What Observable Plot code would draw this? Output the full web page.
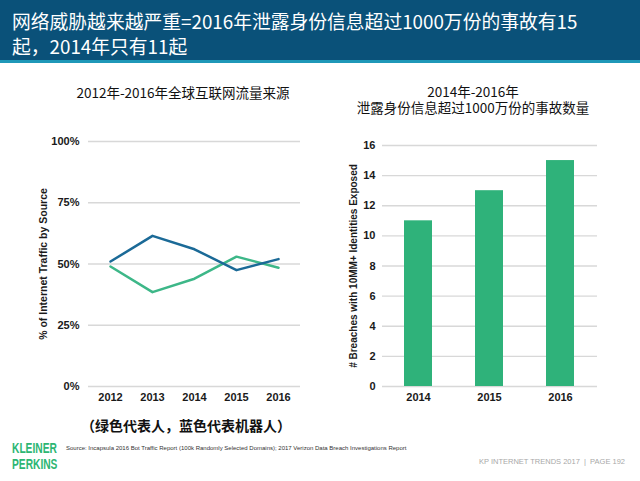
<!DOCTYPE html>
<html>
<head>
<meta charset="utf-8">
<script src="https://cdn.jsdelivr.net/npm/d3@7"></script>
<script src="https://cdn.jsdelivr.net/npm/@observablehq/plot@0.6"></script>
<style>
  html, body { margin: 0; padding: 0; background: #fff; }
  #page { position: relative; width: 640px; height: 481px; overflow: hidden; background: #fff; font-family: "Noto Sans CJK SC", "Liberation Sans", sans-serif; }
  .abs { position: absolute; }
  #header { left: 0; top: 0; width: 640px; height: 60px; background: #0a5179; border-bottom: 3px solid #1f98b8; }
  #title { left: 12px; top: 8px; color: #fff; font-size: 18.8px; line-height: 25px; white-space: nowrap; }
  .ctitle { color: #111; font-size: 13.5px; line-height: 16px; text-align: center; white-space: nowrap; }
  #caption { left: 0px; width: 372px; top: 415px; text-align: center; font-size: 14px; font-weight: bold; color: #111; white-space: nowrap; }
  #source { left: 66px; top: 445px; font-family: "Liberation Sans", Arial, sans-serif; font-size: 6px; color: #333; white-space: nowrap; }
  #pageinfo { right: 15px; top: 457px; font-family: "Liberation Sans", Arial, sans-serif; font-size: 7.5px; color: #a8a8a8; white-space: nowrap; }
  .logo { left: 12px; font-family: "Liberation Sans Narrow", "Liberation Sans", sans-serif; font-weight: bold; font-size: 14px; line-height: 15.6px; height: 15.6px; color: #2db673; white-space: nowrap; transform: scaleX(0.73); transform-origin: 0 50%; }
</style>
</head>
<body>
<div id="page">
  <div id="header" class="abs"></div>
  <div id="title" class="abs">网络威胁越来越严重=2016年泄露身份信息超过1000万份的事故有15<br>起，2014年只有11起</div>
  <div id="t1" class="abs ctitle" style="left:33px; width:300px; top:84px;">2012年-2016年全球互联网流量来源</div>
  <div id="t2" class="abs ctitle" style="left:323px; width:300px; top:83px;">2014年-2016年</div>
  <div id="t3" class="abs ctitle" style="left:323px; width:300px; top:99px;">泄露身份信息超过1000万份的事故数量</div>
  <div id="c1" class="abs" style="left:0; top:125px;"></div>
  <div id="c2" class="abs" style="left:320px; top:125px;"></div>
  <div id="caption" class="abs">（绿色代表人，蓝色代表机器人）</div>
  <div class="abs logo" style="top:441.4px;">KLEINER</div>
  <div class="abs logo" style="top:457px;">PERKINS</div>
  <div id="source" class="abs">Source: Incapsula 2016 Bot Traffic Report (100k Randomly Selected Domains); 2017 Verizon Data Breach Investigations Report</div>
  <div id="pageinfo" class="abs">KP INTERNET TRENDS 2017 &nbsp;|&nbsp; PAGE 192</div>
</div>
<script>
// ---- Data ----
const years = ["2012", "2013", "2014", "2015", "2016"];
const botShare = [51, 61.5, 56, 47.5, 52];      // blue: bots (机器人)
const humanShare = [49, 38.5, 44, 53, 48.5];    // green: humans (人)
const pctTicks = [0, 25, 50, 75, 100];
const lineYLabel = "% of Internet Traffic by Source";

const breachYears = ["2014", "2015", "2016"];
const breaches = [11, 13, 15];
const breachTicks = [0, 2, 4, 6, 8, 10, 12, 14, 16];
const barYLabel = "# Breaches with 10MM+ Identities Exposed";

// ---- Styles ----
const BLUE = "#1b6a97";
const GREEN = "#3db788";
const BAR = "#2fb27a";
const GRID = "#d8d8d8";
const font = {fontFamily: "'Liberation Sans', Arial, sans-serif", fontSize: "11px", fontWeight: "bold", color: "#1a1a1a", background: "transparent", overflow: "visible"};

const botRows = years.map((y, i) => ({year: y, value: botShare[i]}));
const humanRows = years.map((y, i) => ({year: y, value: humanShare[i]}));

const lineChart = Plot.plot({
  width: 320, height: 290,
  marginLeft: 88, marginRight: 20, marginTop: 16, marginBottom: 29,
  style: font,
  x: {type: "point", domain: years, padding: 0.5, label: null, tickSize: 0, tickPadding: 7},
  y: {domain: [0, 100], ticks: pctTicks, tickFormat: d => d + "%", label: null, tickSize: 0, tickPadding: 9},
  marks: [
    Plot.ruleY(pctTicks, {stroke: GRID, strokeWidth: 1.3}),
    Plot.lineY(humanRows, {x: "year", y: "value", stroke: GREEN, strokeWidth: 2.5}),
    Plot.lineY(botRows, {x: "year", y: "value", stroke: BLUE, strokeWidth: 2.5}),
    Plot.text([lineYLabel], {text: d => d, frameAnchor: "left", textAnchor: "middle", dx: -45, rotate: -90, fontSize: 10.5, fontWeight: "bold"})
  ]
});
document.getElementById("c1").appendChild(lineChart);

const barRows = breachYears.map((y, i) => ({year: y, value: breaches[i]}));
const barChart = Plot.plot({
  width: 320, height: 290,
  marginLeft: 62, marginRight: 43, marginTop: 20, marginBottom: 29,
  style: font,
  x: {domain: breachYears, paddingInner: 0.6, paddingOuter: 0.3, label: null, tickSize: 0, tickPadding: 7},
  y: {domain: [0, 16], ticks: breachTicks, label: null, tickSize: 0, tickPadding: 7},
  marks: [
    Plot.ruleY(breachTicks, {stroke: GRID, strokeWidth: 1.3}),
    Plot.barY(barRows, {x: "year", y: "value", fill: BAR}),
    Plot.text([barYLabel], {text: d => d, frameAnchor: "left", textAnchor: "middle", dx: -29, rotate: -90, fontSize: 10, fontWeight: "bold"})
  ]
});
document.getElementById("c2").appendChild(barChart);
</script>
</body>
</html>
